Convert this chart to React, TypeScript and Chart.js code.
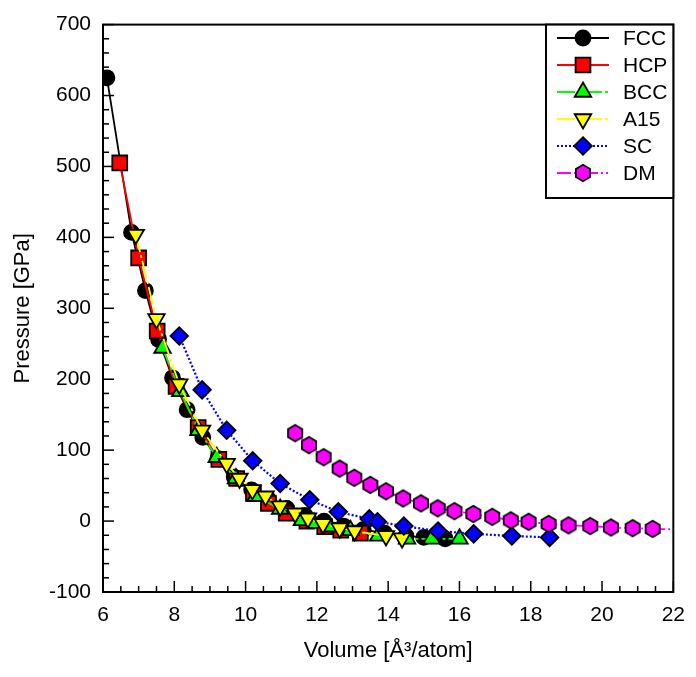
import React, { useEffect, useRef } from 'react';
import { Chart, registerables } from 'chart.js';

Chart.register(...registerables);

// ---------- data (volume in Å^3/atom, pressure in GPa) ----------
const fccVolume = [6.11, 6.8, 7.19, 7.56, 7.95, 8.36, 8.8, 9.22, 9.68, 10.17, 10.65, 11.15, 11.67, 12.2, 12.75, 13.3, 13.9, 14.5, 15.0, 15.6];
const fccPressure = [625, 407, 325, 256, 202, 157, 118, 88, 62, 44, 30, 18, 8, 0, -7, -12, -17, -21, -23, -25];

const hcpVolume = [6.47, 7.0, 7.52, 8.05, 8.67, 9.25, 9.75, 10.22, 10.64, 11.14, 11.72, 12.22, 12.67, 13.22];
const hcpPressure = [505, 371, 268, 190, 132, 87, 60, 39, 25, 11, 0, -8, -13, -17];

const bccVolume = [7.67, 8.17, 8.68, 9.19, 9.73, 10.28, 10.97, 11.58, 11.92, 12.36, 12.94, 13.72, 14.53, 15.22, 16.0];
const bccPressure = [244, 183, 128, 90, 60, 35, 17, 1, -3, -8, -13, -21, -25, -25, -25];

const a15Volume = [6.92, 7.5, 8.14, 8.78, 9.47, 9.83, 10.19, 10.56, 10.97, 11.39, 11.75, 12.17, 12.64, 13.06, 13.94, 14.39];
const a15Pressure = [404, 285, 193, 128, 81, 60, 44, 35, 21, 11, 4, -4, -10, -14, -21, -24];

const scVolume = [8.14, 8.78, 9.47, 10.2, 10.97, 11.8, 12.6, 13.47, 13.7, 14.44, 15.4, 16.4, 17.47, 18.53];
const scPressure = [261, 185, 128, 85, 53, 30, 13, 3, -1, -7, -14, -18, -21, -23];

const dmVolume = [11.39, 11.78, 12.19, 12.64, 13.05, 13.5, 13.94, 14.42, 14.92, 15.39, 15.86, 16.39, 16.92, 17.44, 17.94, 18.5, 19.06, 19.67, 20.25, 20.86, 21.42, 22.4];
const dmPressure = [124, 107, 90, 74, 61, 51, 42, 32, 25, 18, 14, 10, 6, 1, -1, -4, -6, -7, -9, -10, -11, -12];

const seriesNames = ['FCC', 'HCP', 'BCC', 'A15', 'SC', 'DM'];

// axis ranges / ticks
const xMin = 6, xMax = 22, xMajorStep = 2, xMinorStep = 0.5;
const yMin = -100, yMax = 700, yMajorStep = 100, yMinorStep = 20;
const xTitle = 'Volume [Å³/atom]';
const yTitle = 'Pressure [GPa]';

// ---------- styles ----------
const FONT = 'Liberation Sans, Arial, Helvetica, sans-serif';
const styles = [
  { color: '#000000', point: 'circle', radius: 7.5, rotation: 0, dash: [] as number[], width: 1.8 },
  { color: '#ff0000', point: 'rect', radius: 10.5, rotation: 0, dash: [] as number[], width: 1.8 },
  { color: '#00ff00', point: 'triangle', radius: 9.5, rotation: 0, dash: [18, 3, 3, 3], width: 1.8 },
  { color: '#ffff00', point: 'triangle', radius: 9.5, rotation: 180, dash: [18, 3, 3, 3], width: 1.8 },
  { color: '#0000ff', point: 'rectRot', radius: 8.8, rotation: 0, dash: [2, 2], width: 2.2 },
  { color: '#ff00ff', point: 'hexagon', radius: 8, rotation: 0, dash: [14, 3, 2, 3, 2, 3], width: 1.8 },
];
const markerBorder = 1.8;

function hexPath(ctx: CanvasRenderingContext2D, cx: number, cy: number, R: number) {
  ctx.beginPath();
  for (let i = 0; i < 6; i++) {
    const a = -Math.PI / 2 + (i * Math.PI) / 3;
    const px = cx + R * Math.cos(a);
    const py = cy + R * Math.sin(a);
    if (i === 0) ctx.moveTo(px, py);
    else ctx.lineTo(px, py);
  }
  ctx.closePath();
}

function makeHexCanvas(color: string) {
  const c = document.createElement('canvas');
  c.width = 18;
  c.height = 20;
  const g = c.getContext('2d')!;
  hexPath(g, 9, 10, 8.2);
  g.fillStyle = color;
  g.fill();
  g.lineWidth = markerBorder;
  g.strokeStyle = '#000';
  g.stroke();
  return c;
}

function drawMarker(ctx: CanvasRenderingContext2D, kind: string, x: number, y: number, r: number, rot: number, color: string, hex: HTMLCanvasElement) {
  if (kind === 'hexagon') {
    ctx.drawImage(hex, x - hex.width / 2, y - hex.height / 2);
    return;
  }
  ctx.beginPath();
  if (kind === 'circle') {
    ctx.arc(x, y, r, 0, Math.PI * 2);
  } else if (kind === 'rect') {
    const s = r * Math.SQRT1_2;
    ctx.rect(x - s, y - s, 2 * s, 2 * s);
  } else if (kind === 'triangle') {
    const sgn = rot === 180 ? -1 : 1;
    ctx.moveTo(x, y - sgn * r);
    ctx.lineTo(x + 0.866 * r, y + sgn * 0.5 * r);
    ctx.lineTo(x - 0.866 * r, y + sgn * 0.5 * r);
    ctx.closePath();
  } else if (kind === 'rectRot') {
    ctx.moveTo(x, y - r);
    ctx.lineTo(x + r, y);
    ctx.lineTo(x, y + r);
    ctx.lineTo(x - r, y);
    ctx.closePath();
  }
  ctx.fillStyle = color;
  ctx.fill();
  ctx.lineWidth = markerBorder;
  ctx.strokeStyle = '#000';
  ctx.setLineDash([]);
  ctx.stroke();
}

export default function App() {
  const ref = useRef<HTMLCanvasElement | null>(null);

  useEffect(() => {
    if (!ref.current) return;
    const hex = makeHexCanvas(styles[5].color);
    const vols = [fccVolume, hcpVolume, bccVolume, a15Volume, scVolume, dmVolume];
    const press = [fccPressure, hcpPressure, bccPressure, a15Pressure, scPressure, dmPressure];

    const datasets = seriesNames.map((name, i) => {
      const st = styles[i];
      return {
        label: name,
        data: vols[i].map((v, j) => ({ x: v, y: press[i][j] })),
        showLine: true,
        borderColor: st.color,
        borderWidth: st.width,
        borderDash: st.dash,
        backgroundColor: st.color,
        pointBackgroundColor: st.color,
        pointBorderColor: '#000000',
        pointBorderWidth: markerBorder,
        pointStyle: st.point === 'hexagon' ? hex : st.point,
        pointRadius: st.radius,
        pointRotation: st.rotation,
        tension: 0,
        order: 6 - i,
      };
    });

    const framePlugin = {
      id: 'frameTicks',
      beforeDatasetsDraw(chart: any) {
        const { ctx, chartArea: a, scales } = chart;
        const xs = scales.x, ys = scales.y;
        ctx.save();
        ctx.strokeStyle = '#000';
        ctx.lineWidth = 1.5;
        const nx = Math.round((xMax - xMin) / xMinorStep);
        for (let k = 0; k <= nx; k++) {
          const v = xMin + k * xMinorStep;
          const major = Math.abs((v - xMin) / xMajorStep - Math.round((v - xMin) / xMajorStep)) < 1e-6;
          const px = xs.getPixelForValue(v);
          ctx.beginPath();
          ctx.moveTo(px, a.bottom);
          ctx.lineTo(px, a.bottom - (major ? 11 : 6));
          ctx.stroke();
        }
        const ny = Math.round((yMax - yMin) / yMinorStep);
        for (let k = 0; k <= ny; k++) {
          const v = yMin + k * yMinorStep;
          const major = Math.abs((v - yMin) / yMajorStep - Math.round((v - yMin) / yMajorStep)) < 1e-6;
          const py = ys.getPixelForValue(v);
          ctx.beginPath();
          ctx.moveTo(a.left, py);
          ctx.lineTo(a.left + (major ? 11 : 6), py);
          ctx.stroke();
        }
        ctx.lineWidth = 2;
        ctx.strokeRect(a.left, a.top, a.right - a.left, a.bottom - a.top);
        ctx.restore();
      },
      afterDatasetsDraw(chart: any) {
        const { ctx, chartArea: a } = chart;
        ctx.save();
        const boxL = 546, boxT = a.top, boxR = a.right, boxB = 198;
        ctx.fillStyle = '#ffffff';
        ctx.fillRect(boxL, boxT, boxR - boxL, boxB - boxT);
        ctx.lineWidth = 2;
        ctx.strokeStyle = '#000';
        ctx.strokeRect(boxL, boxT, boxR - boxL, boxB - boxT);
        seriesNames.forEach((name, i) => {
          const st = styles[i];
          const y = 38 + i * 27;
          ctx.beginPath();
          ctx.setLineDash(st.dash);
          ctx.strokeStyle = st.color;
          ctx.lineWidth = st.width;
          ctx.moveTo(557, y);
          ctx.lineTo(609, y);
          ctx.stroke();
          ctx.setLineDash([]);
          drawMarker(ctx, st.point, 583, y, st.radius, st.rotation, st.color, hex);
          ctx.fillStyle = '#000';
          ctx.font = `21px ${FONT}`;
          ctx.textAlign = 'left';
          ctx.textBaseline = 'middle';
          ctx.fillText(name, 623, y + 1);
        });
        ctx.restore();
      },
      afterDraw(chart: any) {
        const { ctx, chartArea: a } = chart;
        ctx.save();
        ctx.fillStyle = '#000';
        ctx.font = `22px ${FONT}`;
        ctx.textAlign = 'center';
        ctx.textBaseline = 'middle';
        ctx.fillText(xTitle, (a.left + a.right) / 2, 651);
        ctx.translate(23, (a.top + a.bottom) / 2);
        ctx.rotate(-Math.PI / 2);
        ctx.fillText(yTitle, 0, 0);
        ctx.restore();
      },
    };

    const chart = new Chart(ref.current, {
      type: 'scatter',
      data: { datasets: datasets as any },
      options: {
        animation: false,
        responsive: false,
        events: [],
        layout: { padding: { left: 0, right: 16, top: 17, bottom: 0 } },
        plugins: { legend: { display: false }, tooltip: { enabled: false } },
        scales: {
          x: {
            type: 'linear',
            min: xMin,
            max: xMax,
            grid: { display: false, drawTicks: false },
            border: { display: false },
            ticks: {
              stepSize: xMajorStep,
              color: '#000',
              padding: 11,
              maxRotation: 0,
              autoSkip: false,
              font: { family: FONT, size: 21 },
            },
            afterFit(scale: any) {
              scale.height = 85;
            },
          },
          y: {
            type: 'linear',
            min: yMin,
            max: yMax,
            grid: { display: false, drawTicks: false },
            border: { display: false },
            ticks: {
              stepSize: yMajorStep,
              color: '#000',
              padding: 12,
              autoSkip: false,
              font: { family: FONT, size: 21 },
            },
            afterFit(scale: any) {
              scale.width = 103;
            },
          },
        },
      },
      plugins: [framePlugin],
    });
    return () => chart.destroy();
  }, []);

  return (
    <div style={{ position: 'absolute', left: 0, top: 0, width: 696, height: 677, background: '#fff' }}>
      <canvas ref={ref} width={696} height={677} />
    </div>
  );
}
